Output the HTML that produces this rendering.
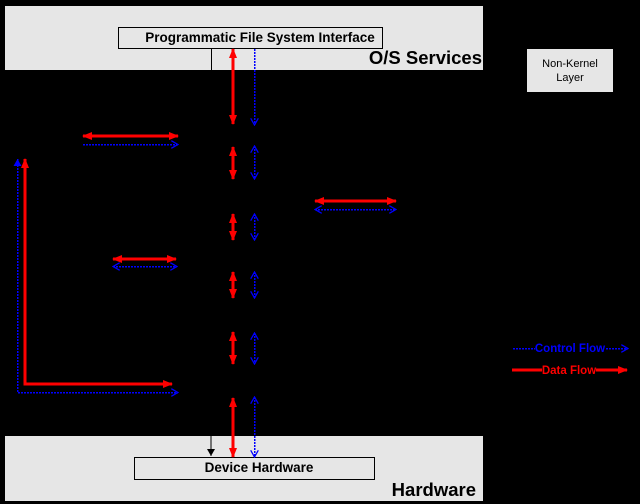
<!DOCTYPE html>
<html><head><meta charset="utf-8"><style>
html,body{margin:0;padding:0;background:#000;}
svg{display:block;}
text{font-family:"Liberation Sans",sans-serif;}
</style></head><body>
<svg width="640" height="504" viewBox="0 0 640 504" xmlns="http://www.w3.org/2000/svg">
<defs>
<marker id="r" markerWidth="10" markerHeight="8" refX="9" refY="4" orient="auto-start-reverse" markerUnits="userSpaceOnUse"><path d="M0,0 L10,4 L0,8 Z" fill="#f00"/></marker>
<marker id="b" markerWidth="8" markerHeight="8" refX="7" refY="4" orient="auto-start-reverse" markerUnits="userSpaceOnUse"><path d="M0,0 L7,4 L0,8" fill="none" stroke="#00f" stroke-width="1.3"/></marker>
<marker id="bf" markerWidth="8" markerHeight="8" refX="7" refY="4" orient="auto-start-reverse" markerUnits="userSpaceOnUse"><path d="M0,0 L7,4 L0,8 Z" fill="#00f"/></marker>
<marker id="k" markerWidth="8" markerHeight="8" refX="7" refY="4" orient="auto" markerUnits="userSpaceOnUse"><path d="M0,0 L7,4 L0,8 Z" fill="#000"/></marker>
</defs>
<rect width="640" height="504" fill="#000"/>
<rect x="5" y="6" width="478" height="64" fill="#e6e6e6"/>
<rect x="118.5" y="27.5" width="264" height="21" fill="#e6e6e6" stroke="#000"/>
<text x="260" y="42" font-size="13.5" font-weight="bold" text-anchor="middle">Programmatic File System Interface</text>
<line x1="211.5" y1="48" x2="211.5" y2="70" stroke="#000"/>
<text x="482" y="64" font-size="18.5" font-weight="bold" text-anchor="end">O/S Services</text>
<rect x="527" y="49" width="86" height="43" fill="#e6e6e6"/>
<text x="570" y="67" font-size="11" text-anchor="middle">Non-Kernel</text>
<text x="570" y="81" font-size="11" text-anchor="middle">Layer</text>
<rect x="5" y="436" width="478" height="65" fill="#e6e6e6"/>
<rect x="134.5" y="457.5" width="240" height="22" fill="#e6e6e6" stroke="#000"/>
<text x="259" y="472" font-size="13.5" font-weight="bold" text-anchor="middle">Device Hardware</text>
<text x="476" y="496" font-size="18.5" font-weight="bold" text-anchor="end">Hardware</text>
<line x1="211" y1="436" x2="211" y2="456" stroke="#000" marker-end="url(#k)"/>
<g stroke="#f00" stroke-width="3" fill="none">
<line x1="233" y1="49" x2="233" y2="124" marker-start="url(#r)" marker-end="url(#r)"/>
<line x1="233" y1="147" x2="233" y2="179" marker-start="url(#r)" marker-end="url(#r)"/>
<line x1="233" y1="214" x2="233" y2="240" marker-start="url(#r)" marker-end="url(#r)"/>
<line x1="233" y1="272" x2="233" y2="298" marker-start="url(#r)" marker-end="url(#r)"/>
<line x1="233" y1="332" x2="233" y2="364" marker-start="url(#r)" marker-end="url(#r)"/>
<line x1="233" y1="398" x2="233" y2="457" marker-start="url(#r)" marker-end="url(#r)"/>
<line x1="83" y1="136" x2="178" y2="136" marker-start="url(#r)" marker-end="url(#r)"/>
<line x1="113" y1="259" x2="176" y2="259" marker-start="url(#r)" marker-end="url(#r)"/>
<line x1="315" y1="201" x2="396" y2="201" marker-start="url(#r)" marker-end="url(#r)"/>
<polyline points="25,159 25,384 172,384" marker-start="url(#r)" marker-end="url(#r)"/>
<line x1="512" y1="370" x2="627" y2="370" marker-end="url(#r)"/>
</g>
<g stroke="#00f" stroke-width="1.5" stroke-dasharray="2,1" fill="none" shape-rendering="crispEdges">
<line x1="254.5" y1="49" x2="254.5" y2="125" marker-end="url(#b)"/>
<line x1="254.5" y1="146" x2="254.5" y2="179" marker-start="url(#b)" marker-end="url(#b)"/>
<line x1="254.5" y1="214" x2="254.5" y2="240" marker-start="url(#b)" marker-end="url(#b)"/>
<line x1="254.5" y1="272" x2="254.5" y2="298" marker-start="url(#b)" marker-end="url(#b)"/>
<line x1="254.5" y1="333" x2="254.5" y2="364" marker-start="url(#b)" marker-end="url(#b)"/>
<line x1="254.5" y1="397" x2="254.5" y2="457" marker-start="url(#b)" marker-end="url(#b)"/>
<line x1="83" y1="144.5" x2="178" y2="144.5" marker-end="url(#b)"/>
<line x1="113" y1="266.5" x2="177" y2="266.5" marker-start="url(#b)" marker-end="url(#b)"/>
<line x1="315" y1="209.5" x2="396" y2="209.5" marker-start="url(#b)" marker-end="url(#b)"/>
<polyline points="17.5,159 17.5,392.5 178,392.5" marker-start="url(#bf)" marker-end="url(#b)"/>
<line x1="513" y1="348.5" x2="628" y2="348.5" marker-end="url(#b)"/>
</g>
<rect x="535" y="341" width="71" height="14" fill="#000"/>
<text x="570" y="352" font-size="11.5" font-weight="bold" fill="#00f" text-anchor="middle">Control Flow</text>
<rect x="542" y="363" width="54" height="14" fill="#000"/>
<text x="569" y="374" font-size="11.5" font-weight="bold" fill="#f00" text-anchor="middle">Data Flow</text>
</svg>
</body></html>
